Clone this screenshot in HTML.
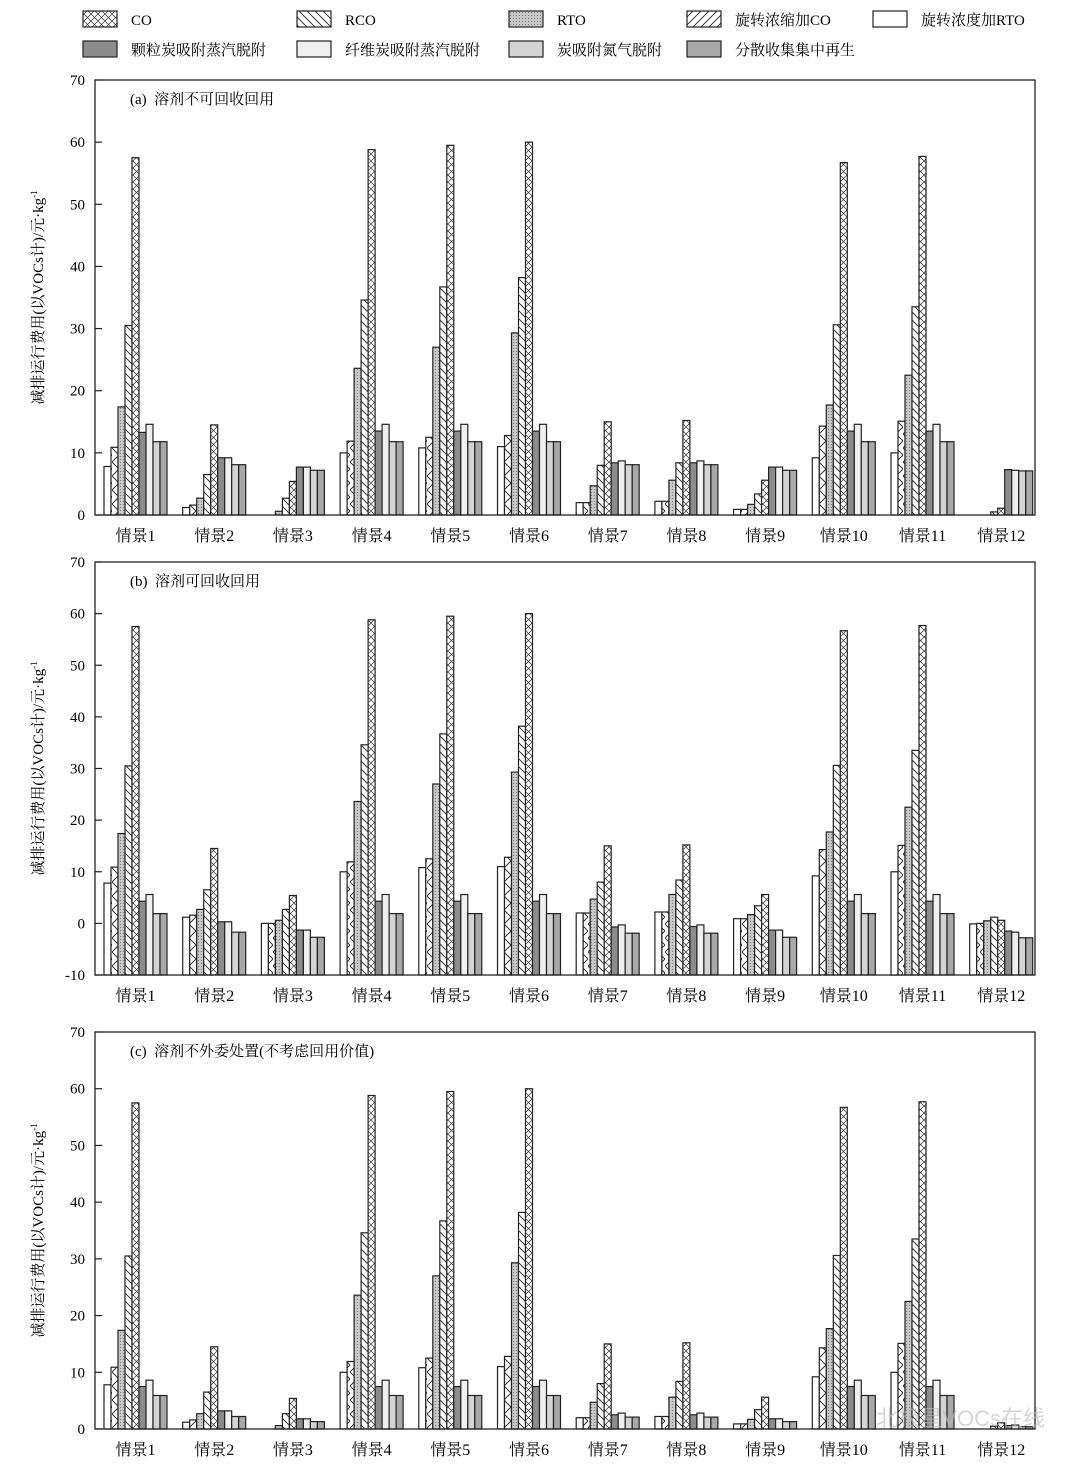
<!DOCTYPE html>
<html><head><meta charset="utf-8">
<style>
html,body{margin:0;padding:0;background:#fff;}
svg{display:block;font-family:"Liberation Serif","Noto Serif CJK SC","Noto Sans CJK SC",serif;}
</style></head>
<body>
<svg id="s" width="1080" height="1465" viewBox="0 0 1080 1465" xmlns="http://www.w3.org/2000/svg">
<defs>
<pattern id="pX" width="7" height="14" patternUnits="userSpaceOnUse"><rect width="7" height="14" fill="#fff"/><path d="M0,0 L7,7 L0,14 M7,0 L0,7 L7,14" stroke="#333" stroke-width="0.7" fill="none"/></pattern>
<pattern id="pB" width="8" height="8" patternUnits="userSpaceOnUse"><rect width="8" height="8" fill="#fff"/><path d="M0,0 L8,8 M-4,4 L4,12 M4,-4 L12,4" stroke="#222" stroke-width="0.9"/></pattern>
<pattern id="pF" width="8" height="8" patternUnits="userSpaceOnUse"><rect width="8" height="8" fill="#fff"/><path d="M8,0 L0,8 M4,-4 L-4,4 M12,4 L4,12" stroke="#222" stroke-width="0.9"/></pattern>
<pattern id="pD" width="3" height="3" patternUnits="userSpaceOnUse"><rect width="3" height="3" fill="#c8c8c8"/><rect width="1" height="1" fill="#777"/></pattern>
<pattern id="pZ" width="7" height="14" patternUnits="userSpaceOnUse"><rect width="7" height="14" fill="#fff"/><path d="M0,0 L7,7 L0,14" stroke="#222" stroke-width="0.9" fill="none"/></pattern>
</defs>
<g id="g"></g>
</svg>
<script>
var g=document.getElementById('g');var h='';
function T(x,y,t,sz,anc,extra){h+='<text x="'+x+'" y="'+y+'" font-size="'+sz+'" text-anchor="'+(anc||'start')+'" '+(extra||'')+'>'+t+'</text>';}
function R(x,y,w,hh,f){h+='<rect x="'+x+'" y="'+y+'" width="'+w+'" height="'+hh+'" fill="'+f+'" stroke="#222" stroke-width="1.2"/>';}
var leg=[[83,11,'url(#pX)','CO'],[297,11,'url(#pB)','RCO'],[509,11,'url(#pD)','RTO'],[687,11,'url(#pF)','旋转浓缩加CO'],[873,11,'#fff','旋转浓度加RTO'],
[83,41,'#8c8c8c','颗粒炭吸附蒸汽脱附'],[297,41,'#f0f0f0','纤维炭吸附蒸汽脱附'],[509,41,'#d4d4d4','炭吸附氮气脱附'],[687,41,'#a8a8a8','分散收集集中再生']];
leg.forEach(function(l){R(l[0],l[1],34,16,l[2]);T(l[0]+48,l[1]+14,l[3],15);});
var fills=['#fff','url(#pZ)','url(#pD)','url(#pB)','url(#pX)','#8c8c8c','#f0f0f0','#d4d4d4','#a8a8a8'];
var first=[[7.8,10.9,17.4,30.5,57.5],[1.2,1.6,2.7,6.5,14.5],[0,0,0.6,2.7,5.4],[10,11.9,23.6,34.6,58.8],[10.8,12.5,27,36.7,59.5],[11,12.8,29.3,38.2,60],[2,2,4.7,8,15],[2.2,2.2,5.6,8.4,15.2],[0.9,0.9,1.7,3.4,5.6],[9.2,14.3,17.7,30.6,56.7],[10,15.1,22.5,33.5,57.7],[0,0,0,0.5,1.1]];
var lastA=[[13.3,14.6,11.8,11.8],[9.2,9.2,8.1,8.1],[7.7,7.7,7.2,7.2],[13.5,14.6,11.8,11.8],[13.5,14.6,11.8,11.8],[13.5,14.6,11.8,11.8],[8.4,8.7,8.1,8.1],[8.4,8.7,8.1,8.1],[7.7,7.7,7.2,7.2],[13.5,14.6,11.8,11.8],[13.5,14.6,11.8,11.8],[7.3,7.2,7.1,7.1]];
var firstB=first.slice();firstB[11]=[-0.1,0,0.5,1.2,0.6];
var lastB=[[4.3,5.6,1.9,1.9],[0.3,0.3,-1.7,-1.7],[-1.3,-1.3,-2.7,-2.7],[4.3,5.6,1.9,1.9],[4.3,5.6,1.9,1.9],[4.3,5.6,1.9,1.9],[-0.7,-0.3,-1.9,-1.9],[-0.6,-0.3,-1.9,-1.9],[-1.3,-1.3,-2.7,-2.7],[4.3,5.6,1.9,1.9],[4.3,5.6,1.9,1.9],[-1.5,-1.7,-2.8,-2.8]];
var lastC=[[7.5,8.6,5.9,5.9],[3.2,3.2,2.2,2.2],[1.8,1.8,1.3,1.3],[7.5,8.6,5.9,5.9],[7.5,8.6,5.9,5.9],[7.5,8.6,5.9,5.9],[2.5,2.8,2.1,2.1],[2.5,2.8,2.1,2.1],[1.8,1.8,1.3,1.3],[7.5,8.6,5.9,5.9],[7.5,8.6,5.9,5.9],[0.6,0.7,0.4,0.4]];
function panel(top,bot,ymin,title,fst,lst){
  var L=95,Rr=1035,sc=(bot-top)/(70-ymin);
  function Y(v){return bot-(v-ymin)*sc;}
  for(var i=0;i<12;i++){
    var vals=fst[i].concat(lst[i]);var x0=104+78.7*i;
    for(var j=0;j<9;j++){var v=vals[j];var y=Y(v);var hh=bot-y;if(hh>0.3)R((x0+j*7).toFixed(1),y.toFixed(1),7,hh.toFixed(1),fills[j]);}
    T((135.5+78.7*i).toFixed(1),bot+26,'情景'+(i+1),16,'middle');
  }
  h+='<rect x="'+L+'" y="'+top+'" width="'+(Rr-L)+'" height="'+(bot-top)+'" fill="none" stroke="#222" stroke-width="1.3"/>';
  for(var v=ymin;v<=70;v+=10){var y=Y(v);h+='<line x1="'+L+'" x2="'+(L+7)+'" y1="'+y+'" y2="'+y+'" stroke="#222" stroke-width="1.2"/>';T(85,y+5,v,15,'end');}
  T(130,top+24,title,15);
  var cy=(top+bot)/2;
  h+='<text transform="translate(43,'+cy+') rotate(-90)" font-size="15" text-anchor="middle">减排运行费用(以VOCs计)/元·kg<tspan font-size="9" dy="-6">-1</tspan></text>';
}
panel(80,515,0,'(a)&#160;&#160;溶剂不可回收回用',first,lastA);
panel(562,975,-10,'(b)&#160;&#160;溶剂可回收回用',firstB,lastB);
panel(1032,1429,0,'(c)&#160;&#160;溶剂不外委处置(不考虑回用价值)',first,lastC);
T(1045,1426,'北极星VOCs在线',22,'end','fill="#bbb" opacity="0.6" font-family="Liberation Sans,Noto Sans CJK SC,sans-serif"');
g.innerHTML=h;
</script>
</body></html>
